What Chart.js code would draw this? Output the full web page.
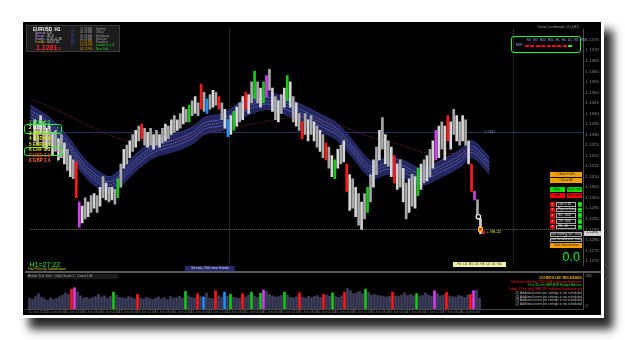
<!DOCTYPE html>
<html>
<head>
<meta charset="utf-8">
<script src="https://cdn.jsdelivr.net/npm/chart.js@4.4.0/dist/chart.umd.min.js"></script>
<style>
body{margin:0;background:#fff;width:625px;height:340px;overflow:hidden;position:relative;font-family:"Liberation Sans",Arial,sans-serif}
#frame{position:absolute;left:23px;top:22px;width:578px;height:293px;background:#000;outline:3px solid #fff;box-shadow:9px 11px 9px 3px rgba(0,0,0,.85)}
.cv{position:absolute}
.t{position:absolute;white-space:nowrap;line-height:1}
.box{position:absolute;box-sizing:border-box}
.btn{position:absolute;box-sizing:border-box;font-size:3.4px;line-height:1;display:flex;align-items:center;justify-content:center;white-space:nowrap}
</style>
</head>
<body>
<div id="frame"></div>
<div class="cv" style="left:25px;top:24px;width:576px;height:247px"><canvas id="main" width="576" height="247"></canvas></div>
<div class="box" style="left:25px;top:271px;width:576px;height:1.5px;background:#5a5a5a"></div>
<div class="cv" style="left:25px;top:273px;width:576px;height:42px"><canvas id="vol" width="576" height="42"></canvas></div>

<!-- info panel -->
<div class="box" style="left:26px;top:25px;width:94px;height:27px;background:#1c1c1c;border:1px solid #3a3a3a"></div>
<div class="t" style="left:33px;top:27.5px;font-size:4.5px;font-weight:bold;color:#fff">EURUSD&nbsp; H1</div>
<div class="t" style="left:35px;top:31.5px;font-size:3.2px;color:#b9a0e6">Spread: <span style="color:#ddd">0.8</span></div>
<div class="t" style="left:35px;top:34.8px;font-size:3.2px;color:#b9a0e6">Range: <span style="color:#ddd">-31.9</span></div>
<div class="t" style="left:35px;top:38.1px;font-size:3.2px;color:#b9a0e6">Swaps: <span style="color:#ddd">-0.45 -0.18</span></div>
<div class="t" style="left:35px;top:41.4px;font-size:3.2px;color:#e0b030">Candle: <span style="color:#ddd">00:27:22</span></div>
<div class="t" style="left:36px;top:44px;font-size:7px;font-weight:bold;color:#ff2020">1.1281<span style="font-size:4px"> 5</span></div>
<div class="t" style="left:70px;top:29px;font-size:3.4px;color:#3a5ad0;writing-mode:vertical-rl;letter-spacing:.3px">EURUSD</div>
<div id="sessions"></div>

<!-- currency strength -->
<div id="strength"></div>
<div class="box" style="left:24px;top:124px;width:38px;height:9.5px;border:1px solid #2ef02e;border-radius:3px"></div>
<div class="box" style="left:24px;top:146.5px;width:39px;height:9px;border:1px solid #2ef02e;border-radius:3px"></div>

<!-- top right timeframe box -->
<div class="t" style="left:537px;top:25.5px;font-size:3.4px;color:#999">Trend_Dashboard_v1.0(H1)</div>
<div class="box" style="left:511px;top:36px;width:70px;height:17px;border:1px solid #2ef02e;border-radius:3px"></div>
<div class="t" style="left:527px;top:38.5px;font-size:3.1px;color:#8fb0ff;word-spacing:1.2px">M1 M5 M15 M30 H1 H4 D1 W1 MN</div>
<div class="t" style="left:516px;top:44.2px;font-size:3.1px;color:#8fb0ff">EUR</div>
<div id="tfrow"></div>

<!-- trade buttons -->
<div class="btn" style="left:550px;top:172px;width:32px;height:5px;background:#f5a000;color:#222">Close Profit</div>
<div class="btn" style="left:550px;top:178px;width:32px;height:5px;background:#f5a000;color:#222">Close All</div>
<div class="btn" style="left:550px;top:187px;width:14.5px;height:5px;background:#00e000;color:#111">Buy</div>
<div class="btn" style="left:566.5px;top:187px;width:15.5px;height:5px;background:#00e000;color:#111">Buy Limit</div>
<div class="btn" style="left:550px;top:193px;width:14.5px;height:5px;background:#f00000;color:#111">Sell</div>
<div class="btn" style="left:566.5px;top:193px;width:15.5px;height:5px;background:#f00000;color:#111">Sell Limit</div>
<div id="rows"></div>
<div class="btn" style="left:550px;top:232px;width:32px;height:4.5px;border:.6px solid #aaa;color:#ddd;background:#111">use trailing S/L: true</div>
<div class="btn" style="left:550px;top:237.5px;width:32px;height:4.5px;border:.6px solid #aaa;color:#ddd;background:#111">use breakeven: true</div>
<div class="btn" style="left:550px;top:243px;width:32px;height:5px;background:#f5a000;color:#222">Take Screenshot</div>
<div class="t" style="left:562.5px;top:250.5px;font-size:12.5px;color:#22ee22">0.0</div>

<!-- in-chart labels -->
<div class="t" style="left:484px;top:130.8px;font-size:3.6px;color:#8899bb">1.1331</div>
<div class="box" style="left:482px;top:231px;width:3px;height:3px;background:#e02020"></div>
<div class="t" style="left:486.5px;top:230.3px;font-size:4.4px;color:#e8e800">+ 98.22</div>
<div class="btn" style="left:583.5px;top:230.5px;width:17px;height:5.5px;background:#cfcfcf;color:#000;font-size:3.8px">1.1285</div>

<!-- bottom labels -->
<div class="t" style="left:29.5px;top:261px;font-size:7px;color:#22ee22">H1=27:22</div>
<div class="t" style="left:28px;top:268px;font-size:2.8px;color:#dddd00">Free PrtScn by Tradewhatever</div>
<div class="btn" style="left:185px;top:265.5px;width:50px;height:5.5px;background:#252a6e;color:#dde">50 ema, 200 ema Trends</div>
<div class="btn" style="left:453px;top:262px;width:53px;height:5px;background:#f0f0a0;color:#333;font-size:3px">H1: 1/4 &nbsp;M5: 2/4 &nbsp;H4: 1/4 &nbsp;D1: 3/4</div>
<div class="t" style="left:27px;top:273.5px;width:91px;height:5px;background:#1a1a1a;font-size:3.3px;color:#aaa;padding:1px 0 0 1px;box-sizing:border-box">Broker Tick Vols : Chart Scale 2 , Count 138</div>
<div id="releases"></div>

<script>
// Candles (price, H1)
const candleHigh = [
  1.1337, 1.1335, 1.1339, 1.1336, 1.1333, 1.1334, 1.1331, 1.1332, 1.1328, 1.1330,
  1.1326, 1.1323, 1.1320, 1.1318, 1.1317, 1.1298, 1.1296, 1.1300, 1.1298, 1.1301,
  1.1302, 1.1301, 1.1305, 1.1310, 1.1307, 1.1305, 1.1305, 1.1304, 1.1309, 1.1316,
  1.1323, 1.1325, 1.1327, 1.1330, 1.1332, 1.1334, 1.1335, 1.1333, 1.1331, 1.1333,
  1.1330, 1.1332, 1.1330, 1.1333, 1.1335, 1.1334, 1.1337, 1.1339, 1.1337, 1.1340,
  1.1343, 1.1342, 1.1344, 1.1346, 1.1348, 1.1345, 1.1354, 1.1350, 1.1347, 1.1349,
  1.1351, 1.1350, 1.1348, 1.1345, 1.1342, 1.1337, 1.1339, 1.1341, 1.1343, 1.1345,
  1.1348, 1.1350, 1.1349, 1.1355, 1.1360, 1.1355, 1.1352, 1.1355, 1.1358, 1.1361,
  1.1352, 1.1348, 1.1346, 1.1349, 1.1352, 1.1358, 1.1355, 1.1348, 1.1345, 1.1340,
  1.1336, 1.1340, 1.1337, 1.1339, 1.1336, 1.1334, 1.1332, 1.1330, 1.1326, 1.1324,
  1.1320, 1.1318, 1.1323, 1.1325, 1.1327, 1.1316, 1.1311, 1.1309, 1.1305, 1.1302,
  1.1298, 1.1302, 1.1305, 1.1311, 1.1318, 1.1324, 1.1332, 1.1338, 1.1330, 1.1327,
  1.1324, 1.1320, 1.1316, 1.1318, 1.1314, 1.1307, 1.1309, 1.1311, 1.1310, 1.1314,
  1.1316, 1.1318, 1.1320, 1.1323, 1.1327, 1.1332, 1.1334, 1.1336, 1.1334, 1.1339,
  1.1336, 1.1342, 1.1339, 1.1336, 1.1339, 1.1337, 1.1327, 1.1316, 1.1303, 1.1299, 1.1290
];
const candleLow = [
  1.1327, 1.1325, 1.1330, 1.1324, 1.1323, 1.1325, 1.1320, 1.1322, 1.1318, 1.1319,
  1.1316, 1.1313, 1.1310, 1.1309, 1.1300, 1.1286, 1.1288, 1.1290, 1.1291, 1.1293,
  1.1295, 1.1293, 1.1296, 1.1300, 1.1299, 1.1298, 1.1299, 1.1297, 1.1300, 1.1305,
  1.1314, 1.1316, 1.1319, 1.1322, 1.1324, 1.1327, 1.1328, 1.1325, 1.1324, 1.1325,
  1.1323, 1.1325, 1.1324, 1.1326, 1.1327, 1.1328, 1.1330, 1.1331, 1.1332, 1.1333,
  1.1335, 1.1336, 1.1336, 1.1339, 1.1340, 1.1339, 1.1342, 1.1341, 1.1340, 1.1342,
  1.1343, 1.1344, 1.1342, 1.1337, 1.1333, 1.1329, 1.1330, 1.1332, 1.1334, 1.1336,
  1.1337, 1.1342, 1.1340, 1.1345, 1.1347, 1.1345, 1.1343, 1.1345, 1.1348, 1.1351,
  1.1341, 1.1337, 1.1336, 1.1340, 1.1343, 1.1346, 1.1343, 1.1336, 1.1334, 1.1332,
  1.1328, 1.1330, 1.1327, 1.1330, 1.1327, 1.1324, 1.1322, 1.1319, 1.1318, 1.1314,
  1.1310, 1.1309, 1.1314, 1.1316, 1.1317, 1.1303, 1.1294, 1.1295, 1.1291, 1.1287,
  1.1285, 1.1290, 1.1293, 1.1298, 1.1305, 1.1311, 1.1318, 1.1323, 1.1316, 1.1315,
  1.1310, 1.1307, 1.1304, 1.1305, 1.1298, 1.1290, 1.1293, 1.1296, 1.1295, 1.1301,
  1.1304, 1.1307, 1.1308, 1.1310, 1.1314, 1.1318, 1.1319, 1.1323, 1.1318, 1.1327,
  1.1323, 1.1330, 1.1327, 1.1325, 1.1327, 1.1325, 1.1316, 1.1303, 1.1299, 1.1292, 1.1283
];
// colored candles (signal bars)
const redIdx = [14, 36, 56, 62, 71, 90, 98, 105, 121, 139, 147];
const greenIdx = [28, 52, 67, 74, 77, 85, 101, 112, 129];
const blueIdx = [58, 65];
const magentaIdx = [15, 78, 135, 148];

// tick volume
const tickVolume = [
  150, 135, 170, 210, 160, 140, 120, 150, 130, 145,
  170, 190, 220, 200, 270, 290, 230, 180, 150, 160,
  140, 155, 170, 200, 165, 180, 150, 175, 230, 190,
  160, 150, 145, 170, 155, 140, 200, 150, 135, 160,
  145, 130, 150, 165, 140, 155, 130, 170, 145, 160,
  175, 150, 240, 180, 160, 150, 210, 170, 165, 220,
  150, 140, 250, 180, 165, 230, 175, 200, 160, 150,
  145, 210, 165, 190, 230, 175, 160, 215, 260, 240,
  200, 180, 165, 170, 185, 230, 190, 160, 150, 170,
  220, 165, 150, 175, 160, 170, 185, 160, 200, 190,
  175, 220, 170, 160, 180, 230, 280, 250, 210, 220,
  240, 210, 270, 230, 190, 200, 185, 180, 170, 165,
  175, 230, 180, 170, 190, 220, 185, 200, 180, 210,
  170, 185, 220, 190, 175, 250, 210, 180, 195, 230,
  180, 170, 165, 185, 175, 160, 190, 200, 250, 260, 150
];

// 50 ema channel (bar index, price)
const bandIdx = [-1.5, 5, 10, 17, 22, 25, 28.5, 33.5, 40, 47, 53.5, 57, 63.5, 70, 75, 78.5, 83.5, 90, 97, 102, 107, 111, 114, 118.5, 123.5, 130, 137, 143.5, 147, 150, 153];
const bandUpper = [1.1344, 1.1338, 1.1331, 1.1318, 1.1312, 1.1310, 1.1313, 1.1320, 1.1327, 1.1330, 1.1334, 1.1338, 1.1340, 1.1346, 1.1349, 1.1350, 1.1348, 1.1344, 1.1339, 1.1335, 1.1327, 1.1320, 1.1317, 1.1319, 1.1318, 1.1314, 1.1318, 1.1323, 1.1327, 1.1324, 1.1319];
const bandInnerUpper = [1.13415, 1.13355, 1.13285, 1.13155, 1.13095, 1.13075, 1.13105, 1.13175, 1.13245, 1.13275, 1.13315, 1.13355, 1.13375, 1.13435, 1.13465, 1.13475, 1.13455, 1.13415, 1.13365, 1.13325, 1.13245, 1.13175, 1.13145, 1.13165, 1.13155, 1.13115, 1.13155, 1.13205, 1.13245, 1.13215, 1.13165];
const bandMid = [1.1340, 1.1334, 1.1327, 1.1314, 1.1308, 1.1306, 1.1309, 1.1316, 1.1323, 1.1326, 1.1330, 1.1334, 1.1336, 1.1342, 1.1345, 1.1346, 1.1344, 1.1340, 1.1335, 1.1331, 1.1323, 1.1316, 1.1313, 1.1315, 1.1314, 1.1310, 1.1314, 1.1319, 1.1323, 1.1320, 1.1315];
const bandInnerLower = [1.13385, 1.13325, 1.13255, 1.13125, 1.13065, 1.13045, 1.13075, 1.13145, 1.13215, 1.13245, 1.13285, 1.13325, 1.13345, 1.13405, 1.13435, 1.13445, 1.13425, 1.13385, 1.13335, 1.13295, 1.13215, 1.13145, 1.13115, 1.13135, 1.13125, 1.13085, 1.13125, 1.13175, 1.13215, 1.13185, 1.13135];
const bandLower = [1.1336, 1.1330, 1.1323, 1.1310, 1.1304, 1.1302, 1.1305, 1.1312, 1.1319, 1.1322, 1.1326, 1.1330, 1.1332, 1.1338, 1.1341, 1.1342, 1.1340, 1.1336, 1.1331, 1.1327, 1.1319, 1.1312, 1.1309, 1.1311, 1.1310, 1.1306, 1.1310, 1.1315, 1.1319, 1.1316, 1.1311];

// 200 ema
const emaIdx = [-1.5, 10, 20, 32.5, 43.5, 57, 73.5, 87, 101, 112.5, 123.5, 133.5, 147];
const emaVal = [1.1347, 1.1340, 1.1333, 1.1327, 1.1327, 1.1331, 1.1335, 1.1338, 1.1335, 1.1329, 1.1325, 1.1321, 1.1321];

// levels / markers
const levelLine = 1.1331;
const bidLine = 1.1285;
const dayMarks = [65.5, 161];
const orderMarker = {x: 149.3, y: 1.1291};
const priceMarker = {x: 150, y: 1.1285};

// axes
const priceMin = 1.12677, priceMax = 1.1380;
const priceTicks = [1.1270, 1.1275, 1.1280, 1.1285, 1.1290, 1.1295, 1.1300, 1.1305, 1.1310, 1.1315, 1.1320, 1.1325, 1.1330, 1.1335, 1.1340, 1.1345, 1.1350, 1.1355, 1.1360, 1.1365, 1.1370, 1.1375];
const volTicks = [0, 492];
const timeTickIdx = [0, 6, 12, 18, 24, 30, 36, 42, 48, 54, 60, 66, 72, 78, 84, 90, 96, 102, 108, 114, 120, 126, 132, 138, 144];
const timeTickLabels = ["10 Jun 2016", "10 Jun 06:00", "10 Jun 12:00", "10 Jun 18:00", "13 Jun 00:00", "13 Jun 06:00", "13 Jun 12:00", "13 Jun 18:00", "14 Jun 00:00", "14 Jun 06:00", "14 Jun 12:00", "14 Jun 18:00", "15 Jun 00:00", "15 Jun 06:00", "15 Jun 12:00", "15 Jun 18:00", "16 Jun 00:00", "16 Jun 06:00", "16 Jun 12:00", "16 Jun 18:00", "17 Jun 00:00", "17 Jun 06:00", "17 Jun 12:00", "17 Jun 18:00", "20 Jun 00:00"];

// panel texts
const sessionNames = ["Sydney", "Tokyo", "Hongkong", "Moscow", "Frankfurt", "London (O+1)", "New York"];
const sessionTimes = ["07:28 AM", "06:28 AM", "05:28 AM", "00:28 AM", "11:28 PM", "10:28 PM", "05:28 PM"];
const strengthRows = ["1 AUD 6.2", "2 NZD 5.6", "3 JPY 5.1", "4 CAD 4.9", "5 EUR 4.1", "6 CHF 3.3", "7 USD 2.9", "8 GBP 2.4"];
const strengthArrow = [-1, 1, 1, 1, 1, -1, -1, 1];
const strengthColor = ["#28e028", "#e8e8e8", "#e8e800", "#e8e800", "#e8e800", "#e8e800", "#ff3030", "#ff7020"];
const tfSignals = [-1, -1, -1, -1, -1, -1, -1, -1, 1];
const releaseLines = [
  ["SCHEDULED RELEASES", "#e0a800"],
  ["13h 05 min (Prelim) USD UoM Consumer Sentiment", "#ff2020"],
  ["1 hrs 35 min GBP BOE Budget Balance", "#20e020"],
  ["1 days 12 hrs (y/y) GBP CPI, Industrial Production y/y", "#ff2020"],
  ["(2)  Additional event per settings is not scheduled", "#bbbbbb"],
  ["(2)  Additional event per settings is not scheduled", "#bbbbbb"],
  ["(2)  Additional event per settings is not scheduled", "#bbbbbb"],
  ["(2)  Additional event per settings is not scheduled", "#bbbbbb"]
];
const tradeRows = ["Lot: 0.10", "Pips to Lock", "S/L: 000", "T/P: 000", "TS: 00"];

// ---- html bits
const put = (html) => document.body.insertAdjacentHTML("beforeend", html);
sessionNames.forEach((n, i) => {
    let y = 28.2 + i * 3.25;
    let tc = i >= 4 ? "#d08a00" : "#9a9a9a";
    let nc = i >= 5 ? "#20d020" : "#9a9a9a";
    put(`<div class="t" style="left:80px;top:${y}px;font-size:2.9px;color:${tc}">${sessionTimes[i]}</div>`);
    put(`<div class="t" style="left:96px;top:${y}px;font-size:2.9px;color:${nc}">${n}</div>`);
});
strengthRows.forEach((r, i) => {
    let y = 121 + i * 5.45;
    put(`<div class="t" style="left:29px;top:${y}px;font-size:4.6px;font-weight:bold;color:${strengthColor[i]}">${r}</div>`);
    let up = strengthArrow[i] > 0;
    put(`<div class="t" style="left:56.5px;top:${y - 0.5}px;font-size:5px;font-weight:bold;color:${up ? "#20f020" : "#ff2020"}">${up ? "↑" : "↓"}</div>`);
});
tfSignals.forEach((s, i) => {
    put(`<div class="box" style="left:${525 + i * 5.4}px;top:45px;width:4px;height:2px;background:${s > 0 ? "#2ef02e" : "#e81010"}"></div>`);
});
tradeRows.forEach((r, i) => {
    let y = 202 + i * 5.7;
    put(`<div class="btn" style="left:550px;top:${y}px;width:4.5px;height:4.5px;background:#e00000;color:#fff">x</div>`);
    put(`<div class="btn" style="left:556px;top:${y}px;width:20px;height:4.5px;border:.6px solid #aaa;background:#111;color:#ddd;justify-content:flex-start;padding-left:1px">${r}</div>`);
    put(`<div class="btn" style="left:577.5px;top:${y}px;width:4.5px;height:4.5px;background:#00d000;color:#fff">+</div>`);
});
releaseLines.forEach((l, i) => {
    let bold = i === 0 ? "font-weight:bold;" : "";
    put(`<div class="t" style="right:${625 - 582}px;top:${277 + i * 3.7}px;font-size:${i === 0 ? 3.6 : 3.1}px;${bold}color:${l[1]}">${l[0]}</div>`);
});

// ---- charts
const tagColor = (i, base) => {
    if (redIdx.includes(i)) return "#ff1a1a";
    if (greenIdx.includes(i)) return "#19c819";
    if (blueIdx.includes(i)) return "#1e90ff";
    if (magentaIdx.includes(i)) return "#d040f0";
    return base;
};
const candleColors = candleHigh.map((h, i) => tagColor(i, i % 2 ? "#a8a8a8" : "#d4d4d4"));
const volColors = tickVolume.map((v, i) => tagColor(i, "#3d3d5c"));
const pts = (xs, ys) => xs.map((x, i) => ({x: x, y: ys[i]}));
const lineDs = (data, color, extra) => Object.assign({
    type: "line", data: data, borderColor: color, borderWidth: 1, pointRadius: 0,
    cubicInterpolationMode: "monotone", fill: false
}, extra);

const mainDecor = {
    id: "mainDecor",
    beforeDatasetsDraw(chart) {
        const {ctx, chartArea: a, scales: {x, y}} = chart;
        ctx.save();
        ctx.lineWidth = 1;
        let py = Math.round(y.getPixelForValue(levelLine)) + 0.5;
        ctx.strokeStyle = "#1f2d63";
        ctx.beginPath(); ctx.moveTo(a.left, py); ctx.lineTo(a.right, py); ctx.stroke();
        ctx.setLineDash([1, 1]);
        ctx.strokeStyle = "#6a6a6a";
        py = Math.round(y.getPixelForValue(bidLine)) + 0.5;
        ctx.beginPath(); ctx.moveTo(a.left, py); ctx.lineTo(a.right, py); ctx.stroke();
        ctx.strokeStyle = "#4a4a4a";
        dayMarks.forEach(d => {
            let px = Math.round(x.getPixelForValue(d)) + 0.5;
            ctx.beginPath(); ctx.moveTo(px, a.top); ctx.lineTo(px, a.bottom); ctx.stroke();
        });
        ctx.restore();
    },
    afterDraw(chart) {
        const {ctx, chartArea: a, scales: {y}} = chart;
        ctx.save();
        ctx.font = '4.4px "Liberation Sans"';
        ctx.fillStyle = "#8a8a8a";
        ctx.textBaseline = "middle";
        priceTicks.forEach(v => {
            ctx.fillText(v.toFixed(4), a.right + 2.5, y.getPixelForValue(v));
        });
        ctx.restore();
    }
};

new Chart(document.getElementById("main"), {
    type: "bar",
    data: {
        datasets: [
            {
                type: "bar", order: 0,
                data: candleHigh.map((h, i) => ({x: i, y: [candleLow[i], h]})),
                backgroundColor: candleColors, barThickness: 2
            },
            lineDs(pts(bandIdx, bandUpper), "#343b8a", {order: 8, fill: "+1", backgroundColor: "rgba(36,40,98,0.95)"}),
            lineDs(pts(bandIdx, bandLower), "#343b8a", {order: 8}),
            lineDs(pts(bandIdx, bandInnerUpper), "#4b54ad", {order: 7}),
            lineDs(pts(bandIdx, bandInnerLower), "#4b54ad", {order: 7}),
            lineDs(pts(bandIdx, bandMid), "#9090b8", {order: 6, borderDash: [1, 1], borderWidth: 0.8}),
            lineDs(pts(emaIdx, emaVal), "#8c1f45", {order: 5, borderDash: [1, 1.5]}),
            {
                type: "line", order: -1, showLine: false, data: [orderMarker],
                pointStyle: "circle", pointRadius: 2.2, pointBackgroundColor: "#000",
                pointBorderColor: "#fff", pointBorderWidth: 1.2
            },
            {
                type: "line", order: -2, showLine: false, data: [priceMarker],
                pointStyle: "rect", pointRadius: 2.6, pointBackgroundColor: "#e02010",
                pointBorderColor: "#ffd000", pointBorderWidth: 1.2
            }
        ]
    },
    options: {
        responsive: false, animation: false, devicePixelRatio: 1,
        layout: {padding: 0},
        plugins: {legend: {display: false}, tooltip: {enabled: false}},
        scales: {
            x: {type: "linear", display: false, min: -1.5, max: 184.5, offset: false},
            y: {
                position: "right", min: priceMin, max: priceMax,
                grid: {display: false}, ticks: {display: false},
                border: {color: "#4a4a4a"},
                afterFit(s) { s.width = 18; }
            }
        }
    },
    plugins: [mainDecor]
});

const volDecor = {
    id: "volDecor",
    afterDraw(chart) {
        const {ctx, chartArea: a, scales: {x, y}} = chart;
        ctx.save();
        ctx.strokeStyle = "#444";
        ctx.lineWidth = 1;
        ctx.beginPath(); ctx.moveTo(a.left, a.bottom + 0.5); ctx.lineTo(a.right, a.bottom + 0.5); ctx.stroke();
        ctx.fillStyle = "#8a8a8a";
        ctx.font = '4.2px "Liberation Sans"';
        ctx.textBaseline = "middle";
        volTicks.forEach(v => {
            ctx.fillText(String(v), a.right + 2.5, Math.min(Math.max(y.getPixelForValue(v), a.top + 3), a.bottom - 3));
        });
        ctx.font = '3.4px "Liberation Sans"';
        ctx.fillStyle = "#7a7a7a";
        ctx.textBaseline = "top";
        timeTickIdx.forEach((t, i) => {
            ctx.fillText(timeTickLabels[i], x.getPixelForValue(t) - 1, a.bottom + 1.8);
        });
        ctx.restore();
    }
};

new Chart(document.getElementById("vol"), {
    type: "bar",
    data: {
        datasets: [{
            data: tickVolume.map((v, i) => ({x: i, y: v})),
            backgroundColor: volColors, barThickness: 2
        }]
    },
    options: {
        responsive: false, animation: false, devicePixelRatio: 1,
        layout: {padding: {bottom: 6}},
        plugins: {legend: {display: false}, tooltip: {enabled: false}},
        scales: {
            x: {type: "linear", display: false, min: -1.5, max: 184.5, offset: false},
            y: {
                position: "right", min: 0, max: 492,
                grid: {display: false}, ticks: {display: false},
                border: {color: "#4a4a4a"},
                afterFit(s) { s.width = 18; }
            }
        }
    },
    plugins: [volDecor]
});
</script>
</body>
</html>
